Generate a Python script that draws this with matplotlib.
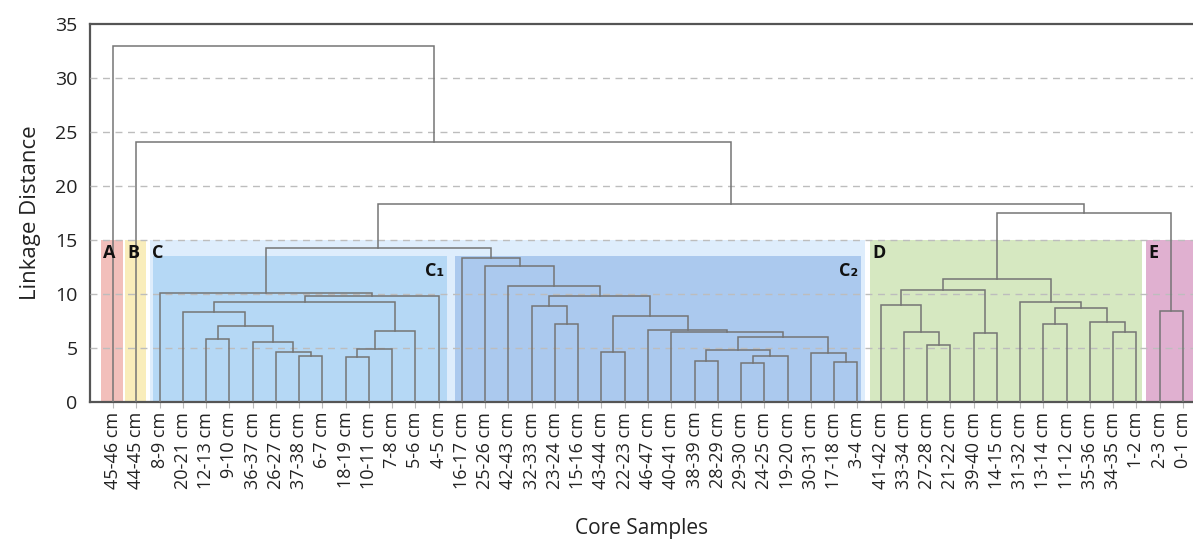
import matplotlib
matplotlib.use("Agg")
import matplotlib.pyplot as plt
from matplotlib.patches import Rectangle

plt.rcParams['font.family'] = ['Open Sans', 'DejaVu Sans']

# ---------------- data ----------------
leaf_labels = [
    "45-46 cm", "44-45 cm",
    "8-9 cm", "20-21 cm", "12-13 cm", "9-10 cm", "36-37 cm", "26-27 cm", "37-38 cm",
    "6-7 cm", "18-19 cm", "10-11 cm", "7-8 cm", "5-6 cm", "4-5 cm",
    "16-17 cm", "25-26 cm", "42-43 cm", "32-33 cm", "23-24 cm", "15-16 cm", "43-44 cm",
    "22-23 cm", "46-47 cm", "40-41 cm", "38-39 cm", "28-29 cm", "29-30 cm", "24-25 cm",
    "19-20 cm", "30-31 cm", "17-18 cm", "3-4 cm",
    "41-42 cm", "33-34 cm", "27-28 cm", "21-22 cm", "39-40 cm", "14-15 cm", "31-32 cm",
    "13-14 cm", "11-12 cm", "35-36 cm", "34-35 cm", "1-2 cm",
    "2-3 cm", "0-1 cm",
]

# merges: (node name, left child, right child, linkage distance)
# children are leaf indices (int) or earlier node names (str)
merges_c1 = [
    ("c1a", 8, 9, 4.3), ("c1b", 7, "c1a", 4.6), ("c1c", 6, "c1b", 5.55),
    ("c1d", 4, 5, 5.8), ("c1e", "c1d", "c1c", 7.0), ("c1f", 3, "c1e", 8.3),
    ("c1g", 10, 11, 4.2), ("c1h", "c1g", 12, 4.9), ("c1i", "c1h", 13, 6.6),
    ("c1j", "c1f", "c1i", 9.3), ("c1k", "c1j", 14, 9.8), ("C1", 2, "c1k", 10.1),
]
merges_c2 = [
    ("c2a", 31, 32, 3.7), ("c2b", 30, "c2a", 4.5), ("c2c", 27, 28, 3.6),
    ("c2d", "c2c", 29, 4.3), ("c2e", 25, 26, 3.8), ("c2f", "c2e", "c2d", 4.8),
    ("c2g", "c2f", "c2b", 6.0), ("c2h", 24, "c2g", 6.5), ("c2i", 23, "c2h", 6.7),
    ("c2j", 21, 22, 4.66), ("c2k", "c2j", "c2i", 7.96), ("c2l", 19, 20, 7.2),
    ("c2m", 18, "c2l", 8.9), ("c2n", "c2m", "c2k", 9.8), ("c2o", 17, "c2n", 10.7),
    ("c2p", 16, "c2o", 12.6), ("C2", 15, "c2p", 13.3),
]
merges_d = [
    ("d1", 35, 36, 5.3), ("d2", 34, "d1", 6.5), ("d3", 33, "d2", 9.0),
    ("d4", 37, 38, 6.35), ("d5", "d3", "d4", 10.4), ("d6", 43, 44, 6.5),
    ("d7", 42, "d6", 7.4), ("d8", 40, 41, 7.2), ("d9", "d8", "d7", 8.7),
    ("d10", 39, "d9", 9.3), ("D", "d5", "d10", 11.4),
]
merges_top = [
    ("C", "C1", "C2", 14.3), ("E", 45, 46, 8.4), ("DE", "D", "E", 17.5),
    ("CDE", "C", "DE", 18.3), ("BCDE", 1, "CDE", 24.1), ("ROOT", 0, "BCDE", 33.0),
]

# groups: (label, first leaf, last leaf, top distance)
groups = [("A", 0, 0, 15), ("B", 1, 1, 15), ("C", 2, 32, 15), ("D", 33, 44, 15), ("E", 45, 46, 15)]
subgroups = [("C\u2081", 2, 14, 13.5), ("C\u2082", 15, 32, 13.5)]

# ---------------- style ----------------
group_colors = {"A": "#f2bfbb", "B": "#f9edbb", "C": "#deedfc", "D": "#d6e8c1", "E": "#e0b0d0"}
sub_colors = {"C\u2081": "#b5d8f5", "C\u2082": "#abc9ee"}
line_color = "#757575"

fig = plt.figure(figsize=(11.93, 5.41), dpi=100)
ax = fig.add_axes([90 / 1193, (541 - 402) / 541, (1193 - 90) / 1193, (402 - 24) / 541])
ax.set_xlim(-0.99, 46.43)
ax.set_ylim(0, 35)

# shaded group bands
pads = {"A": (0.52, 0.42), "B": (0.49, 0.42), "C": (0.41, 0.33), "D": (0.46, 0.24), "E": (0.59, 1.0)}
for name, a, b, top in groups:
    l, r = pads[name]
    ax.add_patch(Rectangle((a - l, 0), (b + r) - (a - l), top, facecolor=group_colors[name],
                           edgecolor="none", zorder=1))
    ax.text(a - l + 0.1, top - 0.4, name, fontsize=13, fontweight="bold", ha="left", va="top",
            color="#111111", zorder=6)
subpads = {"C\u2081": (0.27, 0.35), "C\u2082": (0.30, 0.14)}
for name, a, b, top in subgroups:
    l, r = subpads[name]
    ax.add_patch(Rectangle((a - l, 0), (b + r) - (a - l), top, facecolor=sub_colors[name],
                           edgecolor="none", zorder=2))
    ax.text(b + r - 0.1, top - 0.5, name, fontsize=13, fontweight="bold", ha="right", va="top",
            color="#111111", zorder=6)

# grid
for g in [5, 10, 15, 20, 25, 30]:
    ax.axhline(g, color="#bdbdbd", lw=1.0, dashes=(5, 4), zorder=3)

# dendrogram
pos = {i: float(i) for i in range(len(leaf_labels))}
hgt = {i: 0.0 for i in range(len(leaf_labels))}
for name, l, r, h in merges_c1 + merges_c2 + merges_d + merges_top:
    xl, xr = pos[l], pos[r]
    ax.plot([xl, xl, xr, xr], [hgt[l], h, h, hgt[r]], color=line_color, lw=1.1,
            solid_joinstyle="miter", zorder=5)
    pos[name] = (xl + xr) / 2
    hgt[name] = h

# axes styling
ax.set_xticks(range(len(leaf_labels)))
ax.set_xticklabels(leaf_labels, rotation=90, fontsize=13, color="#222222")
ax.set_yticks(range(0, 36, 5))
ax.set_yticklabels([str(v) for v in range(0, 36, 5)], fontsize=14, color="#222222")
ax.tick_params(axis="y", length=0, pad=9)
ax.tick_params(axis="x", length=4, color="#bbbbbb", pad=3)
for s in ["left", "top", "bottom"]:
    ax.spines[s].set_color("#555555")
    ax.spines[s].set_linewidth(1.6)
ax.spines["right"].set_visible(False)
ax.set_ylabel("Linkage Distance", fontsize=16, color="#222222", labelpad=10)
ax.set_xlabel("Core Samples", fontsize=15, color="#222222", labelpad=21)

fig.savefig("out.png", dpi=100)
